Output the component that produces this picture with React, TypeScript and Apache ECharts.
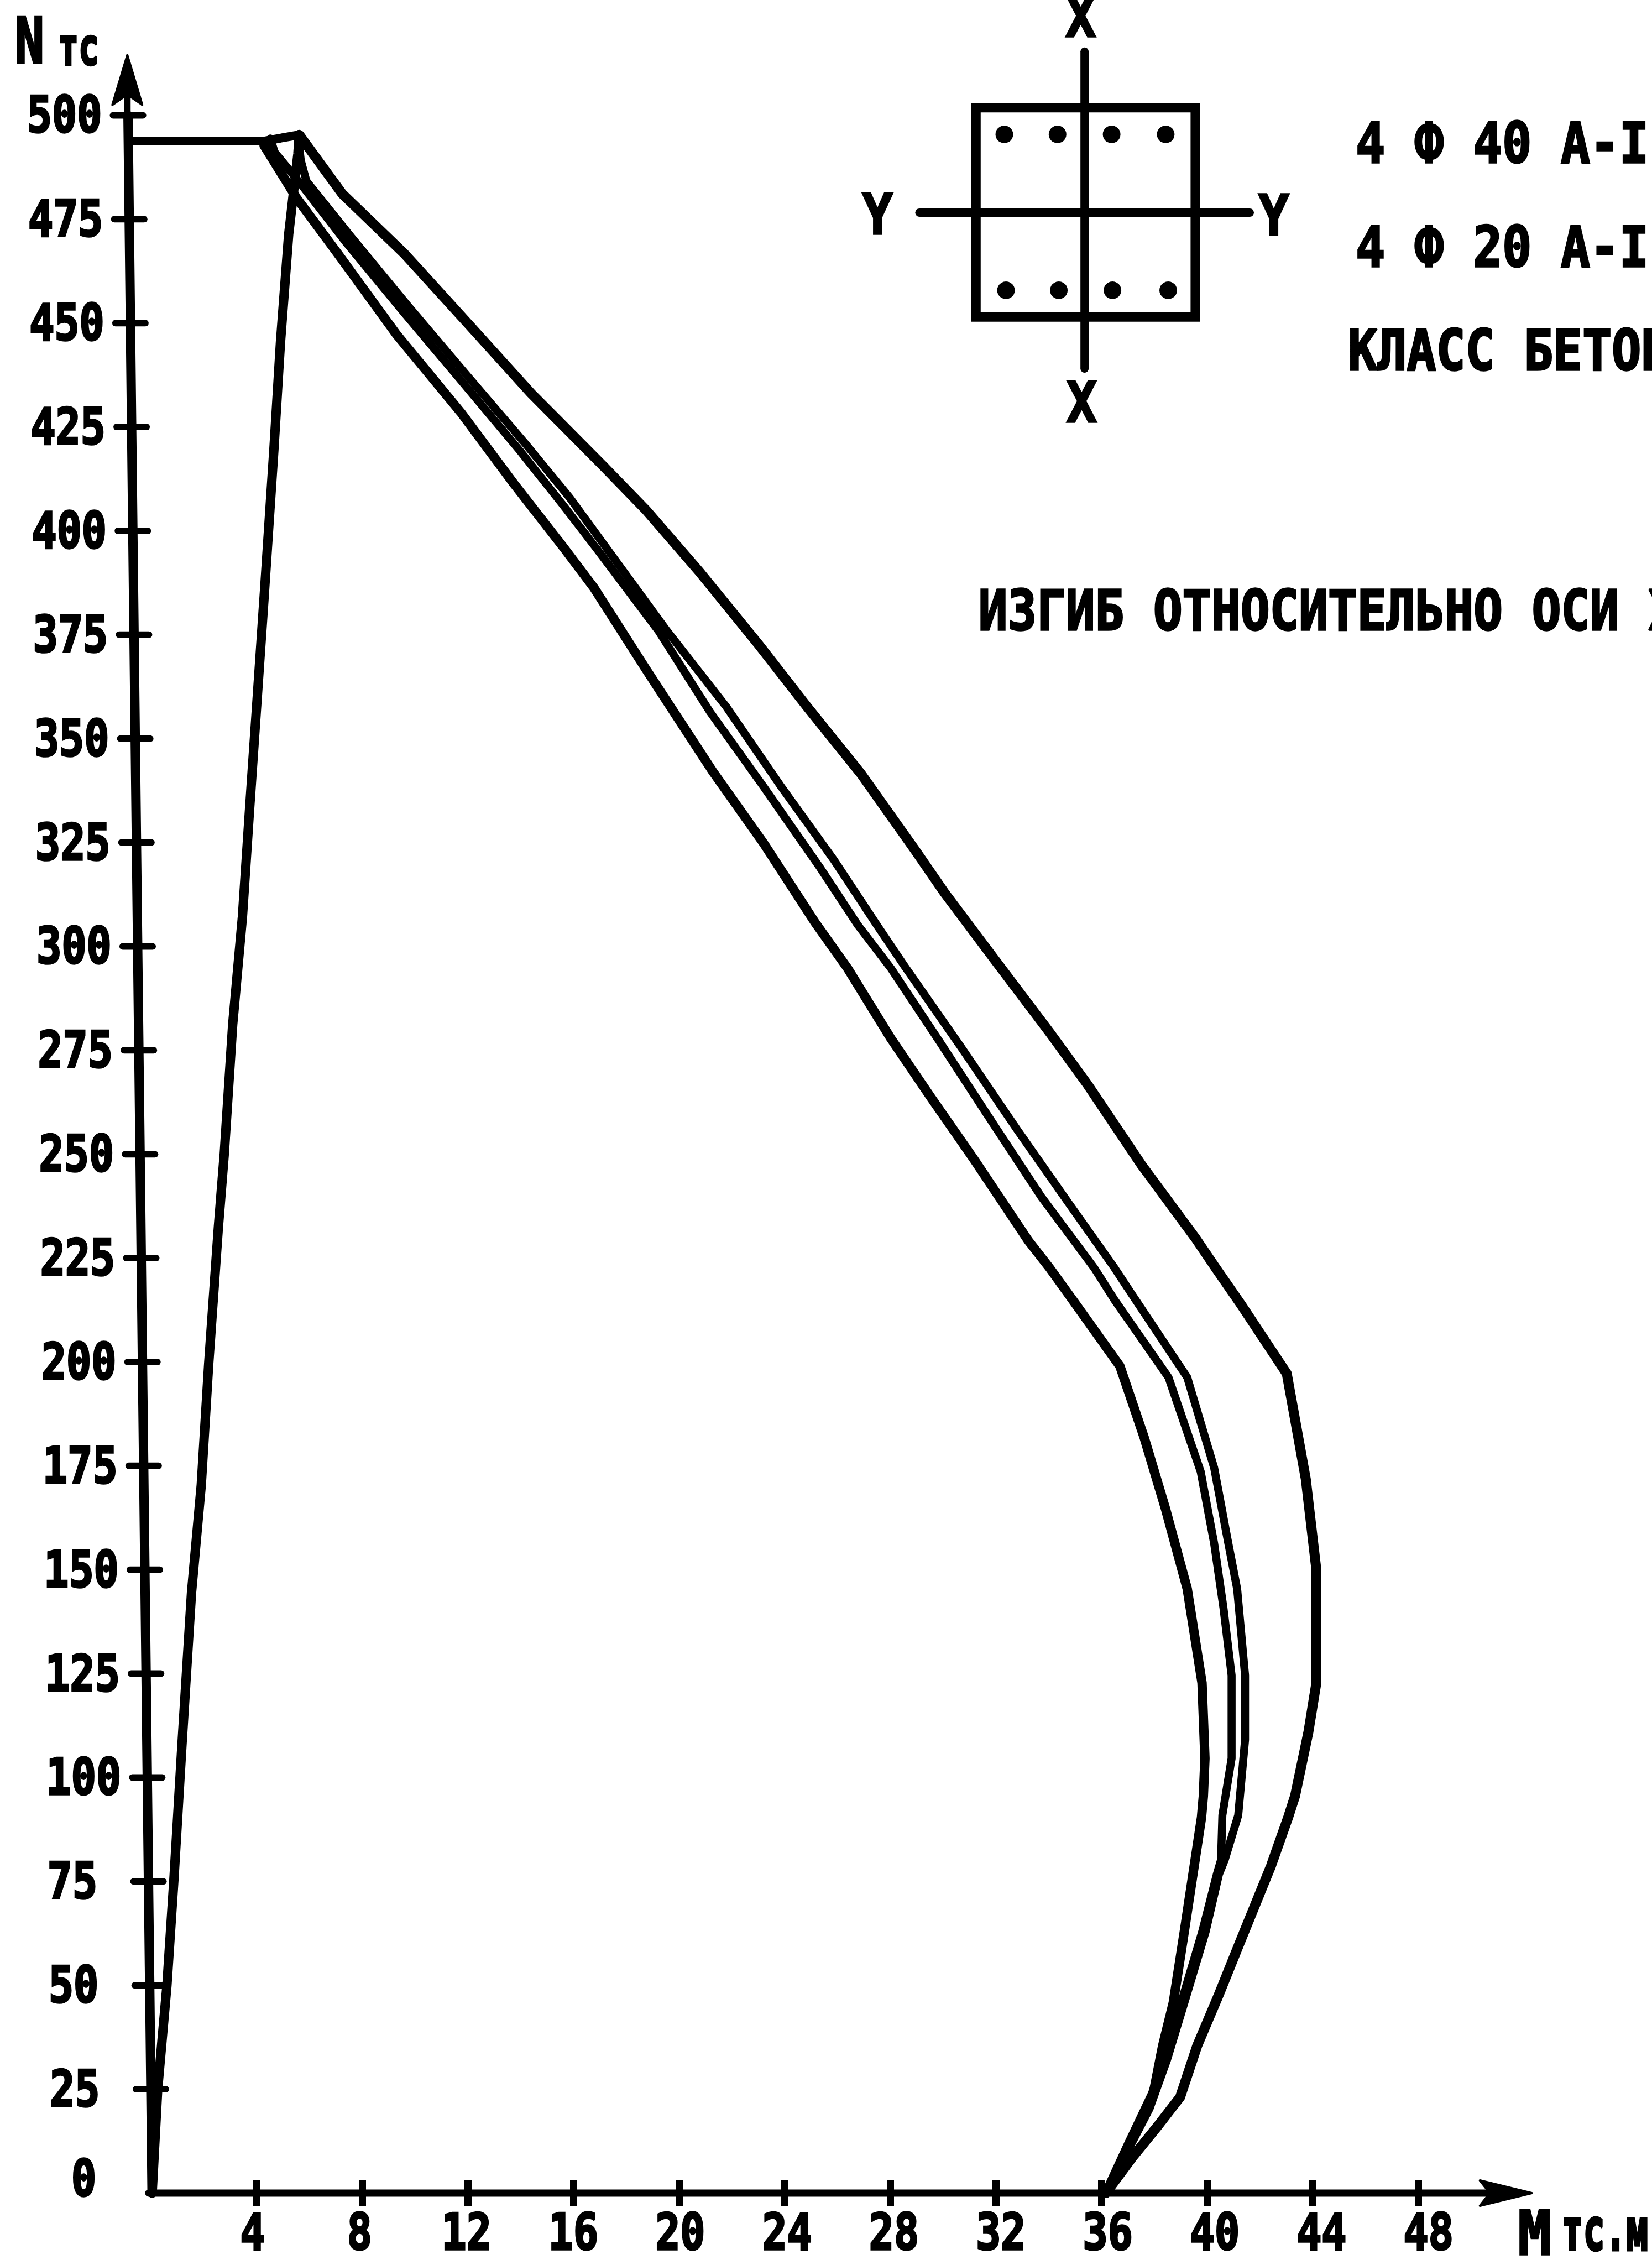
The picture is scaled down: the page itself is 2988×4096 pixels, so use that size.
import React, { useEffect, useRef } from "react";
import * as echarts from "echarts";

const yTicks = [500, 475, 450, 425, 400, 375, 350, 325, 300, 275, 250, 225, 200, 175, 150, 125, 100, 75, 50, 25, 0];
const xTicks = [4, 8, 12, 16, 20, 24, 28, 32, 36, 40, 44, 48];

const curveA = [[36.17,0],[37.17,8.6],[38.14,16.2],[38.98,23.1],[39.63,35.5],[40.45,47.8],[41.28,60.9],[42.42,78.7],[43.07,90.4],[43.33,95.5],[43.84,111],[44.14,122.8],[44.14,131.8],[44.14,150],[43.74,171.8],[43.02,197.2],[41.3,213.7],[40.33,222.6],[39.55,229.9],[37.52,247.4],[35.47,266.8],[34.05,279.2],[31.9,297.3],[30.06,312.9],[28.93,323.3],[26.9,341.5],[24.85,357.7],[23.01,372.7],[20.77,390.2],[18.74,405.1],[17.15,415.5],[14.4,433.1],[12.05,449.6],[9.6,466.7],[7.25,481.1],[5.62,495.3]];
const curveB = [[36.17,0],[37.82,20.3],[38.48,32],[39.14,45.8],[39.95,63],[40.45,76.7],[40.67,80.2],[41.18,90.9],[41.44,109.1],[41.44,124.6],[41.14,145.4],[40.78,157.2],[40.27,174.5],[39.25,196.3],[37.1,216.8],[36.5,222.6],[34.75,238.3],[32.82,255.8],[30.67,275.9],[28.53,295.4],[27.5,305.1],[25.87,320.8],[23.82,338.9],[21.79,357.7],[19.55,375.9],[17.09,397.3],[15.86,408],[14.18,421],[11.92,437.8],[9.68,454.6],[7.54,471.1],[5.89,484.2],[5.68,489.1],[5.58,494.7]];
const curveC = [[36.17,0],[37.73,20.3],[38.32,32],[39.02,45.8],[39.82,63],[40.37,76.7],[40.53,80.2],[40.58,90.9],[40.93,104.6],[40.93,124.6],[40.62,140.9],[40.27,156.3],[39.76,173.6],[38.54,196.3],[36.5,214.9],[35.73,222.6],[33.74,239.6],[31.79,258.4],[29.86,277.2],[28.02,294.8],[26.78,305.1],[25.36,318.8],[23.22,338.3],[21.18,356.4],[19.23,375.9],[16.85,396],[15.6,406.3],[14,419.1],[11.76,436.1],[9.52,453],[7.38,469.5],[5.74,483],[4.69,491.1],[4.53,494.4]];
const curveD = [[36.17,0],[37,11.4],[37.98,24.5],[38.32,35.5],[38.72,45.8],[39.14,63],[39.79,90.4],[39.86,95.5],[39.92,104.6],[39.81,122.8],[39.25,145.4],[38.43,164.6],[37.62,181.8],[36.7,199],[35.06,213.6],[34.04,222.6],[33.23,229.2],[31.18,248.7],[29.55,263.6],[28.02,277.9],[26.38,294.8],[25.15,305.8],[23.22,324.7],[21.28,342.1],[18.74,366.8],[16.78,386.3],[15.62,396.1],[13.79,411],[11.74,428.5],[9.3,447.3],[7.15,466.1],[5.52,480.1],[4.29,492.7]];
const returnLine = [[0.05,0],[0.26,25],[0.61,50],[0.87,75],[1.18,108],[1.54,144.4],[1.91,170.4],[2.19,199.4],[2.56,232.6],[2.78,250],[3.1,281.2],[3.47,307.2],[3.74,333.1],[4.02,359],[4.3,385],[4.66,419.5],[4.91,445.4],[5.22,471.3],[5.57,490.7],[5.62,495.3]];
const capLine = [[-0.85,493.8],[4.3,493.8],[5.62,495.3]];

const S = 2988 / 3910;
const px = (v: number) => v * S;
const MONO = '"DejaVu Sans Mono"';
const M_MIN = -1;
const M_MAX = 52.3;
const N_MAX = 514.5;
const UNIT_M = 47.76;

// The hand-drawn N axis leans to the left as it rises.
const spine = (n: number) => 0.048 - n * 0.001824;

function App() {
  const ref = useRef<HTMLDivElement>(null);
  useEffect(() => {
    document.body.style.margin = "0";
    document.body.style.overflow = "hidden";
    const chart = echarts.init(ref.current!, null, { renderer: "svg" });

    const inkText = (text: string, x: number, y: number, size: number, sy: number, align = "left") => ({
      type: "text", x: px(x), y: px(y), scaleY: sy, silent: true,
      style: { text, font: `bold ${size}px ${MONO}`, fill: "#000", stroke: "#000", lineWidth: 3,
        textAlign: align, textVerticalAlign: "middle", align, verticalAlign: "middle" },
    });
    const inkLine = (x1: number, y1: number, x2: number, y2: number, w: number) => ({
      type: "line", silent: true,
      shape: { x1: px(x1), y1: px(y1), x2: px(x2), y2: px(y2) },
      style: { stroke: "#000", lineWidth: w, lineCap: "round" },
    });
    const dot = (x: number, y: number) => ({
      type: "circle", silent: true, shape: { cx: px(x), cy: px(y), r: 16 }, style: { fill: "#000" },
    });

    const graphics: any[] = [
      { type: "rect", silent: true, shape: { x: px(2310), y: px(255), width: px(519), height: px(495) },
        style: { fill: "none", stroke: "#000", lineWidth: 17 } },
      inkLine(2567, 122, 2567, 872, 15),
      inkLine(2176, 503, 2958, 503, 15),
      dot(2377, 318), dot(2503, 318), dot(2631, 318), dot(2759, 318),
      dot(2381, 687), dot(2506, 687), dot(2633, 687), dot(2765, 687),
      inkText("X", 2558, 40, 92, 1.1, "center"),
      inkText("X", 2560, 952, 92, 1.1, "center"),
      inkText("Y", 2077, 507, 92, 1.1, "center"),
      inkText("Y", 3015, 510, 92, 1.1, "center"),
      inkText("4 Ф 40 А-I", 3209, 338, 88, 1.15),
      inkText("4 Ф 20 А-I", 3209, 584, 88, 1.15),
      inkText("КЛАСС БЕТОН", 3191, 829, 88, 1.15),
      inkText("ИЗГИБ ОТНОСИТЕЛЬНО ОСИ X", 2316, 1444, 87.5, 1.15),
      inkText("N", 70, 97, 88, 1.3, "center"),
      inkText("тс", 137, 112, 62, 1.5),
      inkText("М", 3632, 5285, 100, 1.1, "center"),
      inkText("тс.м", 3696, 5278, 65, 1.6),
    ];

    const curve = (name: string, data: number[][], width: number) => ({
      name, type: "line", data, symbol: "none", clip: false, silent: true,
      lineStyle: { color: "#000", width, cap: "round", join: "round" },
    });

    const option: any = {
      animation: false,
      backgroundColor: "#fff",
      graphic: graphics,
      grid: { left: 272.8 + M_MIN * UNIT_M, top: 99.5, width: (M_MAX - M_MIN) * UNIT_M, height: 3866.5, containLabel: false },
      xAxis: [
        { type: "value", min: M_MIN, max: M_MAX, position: "bottom", splitLine: { show: false },
          axisLine: { show: false },
          axisTick: { show: true, customValues: xTicks, length: 24, lineStyle: { color: "#000", width: 13 } },
          axisLabel: { show: false } },
        { type: "value", min: M_MIN, max: M_MAX, position: "bottom", splitLine: { show: false },
          axisLine: { show: false },
          axisTick: { show: true, inside: true, customValues: xTicks, length: 24, lineStyle: { color: "#000", width: 13 } },
          axisLabel: { show: false } },
      ],
      yAxis: { type: "value", min: 0, max: N_MAX, show: true, splitLine: { show: false },
        axisLine: { show: false }, axisTick: { show: false }, axisLabel: { show: false } },
      series: [
        curve("A", curveA, 18),
        curve("B", curveB, 14.5),
        curve("C", curveC, 14.5),
        curve("D", curveD, 17),
        curve("return", returnLine, 17),
        curve("cap", capLine, 16),
        { name: "axes", type: "custom", coordinateSystem: "cartesian2d", clip: false, silent: true,
          data: [[0, 0]],
          encode: { x: 0, y: 1 },
          renderItem: (_p: any, api: any) => {
            const o = api.coord([spine(0), 0]);
            const nTip = api.coord([spine(N_MAX), N_MAX]);
            const nEnd = api.coord([spine(500), 500]);
            const xStart = api.coord([0, 0]);
            const xTip = api.coord([M_MAX, 0]);
            return { type: "group", children: [
              { type: "line", shape: { x1: o[0], y1: o[1], x2: nEnd[0], y2: nEnd[1] },
                style: { stroke: "#000", lineWidth: 17, lineCap: "round" } },
              { type: "polygon", shape: { points: [
                  [nTip[0], nTip[1]],
                  [nTip[0] + 27, nTip[1] + 90],
                  [nTip[0] + 4, nTip[1] + 74],
                  [nTip[0] + 4, nTip[1] + 120],
                  [nTip[0] - 4, nTip[1] + 120],
                  [nTip[0] - 4, nTip[1] + 74],
                  [nTip[0] - 27, nTip[1] + 90],
                ] }, style: { fill: "#000", stroke: "#000", lineWidth: 4, lineJoin: "round" } },
              { type: "line", shape: { x1: xStart[0] - 4, y1: xStart[1], x2: xTip[0] - 60, y2: xTip[1] },
                style: { stroke: "#000", lineWidth: 13, lineCap: "round" } },
              { type: "polygon", shape: { points: [
                  [xTip[0], xTip[1]],
                  [xTip[0] - 94, xTip[1] - 23],
                  [xTip[0] - 76, xTip[1]],
                  [xTip[0] - 94, xTip[1] + 23],
                ] }, style: { fill: "#000", stroke: "#000", lineWidth: 4, lineJoin: "round" } },
            ] };
          } },
        { name: "N ticks", type: "custom", coordinateSystem: "cartesian2d", clip: false, silent: true,
          data: yTicks.map((n) => [spine(n), n]),
          encode: { x: 0, y: 1 },
          renderItem: (_p: any, api: any) => {
            const n = api.value(1);
            const [x, y] = api.coord([api.value(0), n]);
            const zero = n === 0;
            const children: any[] = [];
            if (!zero) children.push({ type: "line",
              shape: { x1: x - 27, y1: y, x2: x + 27, y2: y },
              style: { stroke: "#000", lineWidth: 12, lineCap: "round" } });
            const align = "left";
            children.push({ type: "text",
              x: zero ? 129 : 92.3 - 0.0868 * n,
              y: zero ? y - 26 : y,
              scaleY: 1.2,
              style: { text: String(n), font: `bold 75px ${MONO}`, fill: "#000", stroke: "#000", lineWidth: 3,
                textAlign: align, textVerticalAlign: "middle", align, verticalAlign: "middle" } });
            return { type: "group", children };
          } },
        { name: "M labels", type: "custom", coordinateSystem: "cartesian2d", clip: false, silent: true,
          data: xTicks.map((m) => [m, 0]),
          encode: { x: 0, y: 1 },
          renderItem: (_p: any, api: any) => {
            const m = api.value(0);
            const [x, y] = api.coord([m, 0]);
            const shift = px(-12 + m * 0.75);
            return { type: "text", x: x + shift, y: y + 71, scaleY: 1.2,
              style: { text: String(m), font: `bold 75px ${MONO}`, fill: "#000", stroke: "#000", lineWidth: 3,
                textAlign: "center", textVerticalAlign: "middle", align: "center", verticalAlign: "middle" } };
          } },
      ],
    };
    chart.setOption(option);
    return () => chart.dispose();
  }, []);
  return <div ref={ref} style={{ width: 2988, height: 4096, overflow: "hidden", background: "#fff" }} />;
}

export default App;
